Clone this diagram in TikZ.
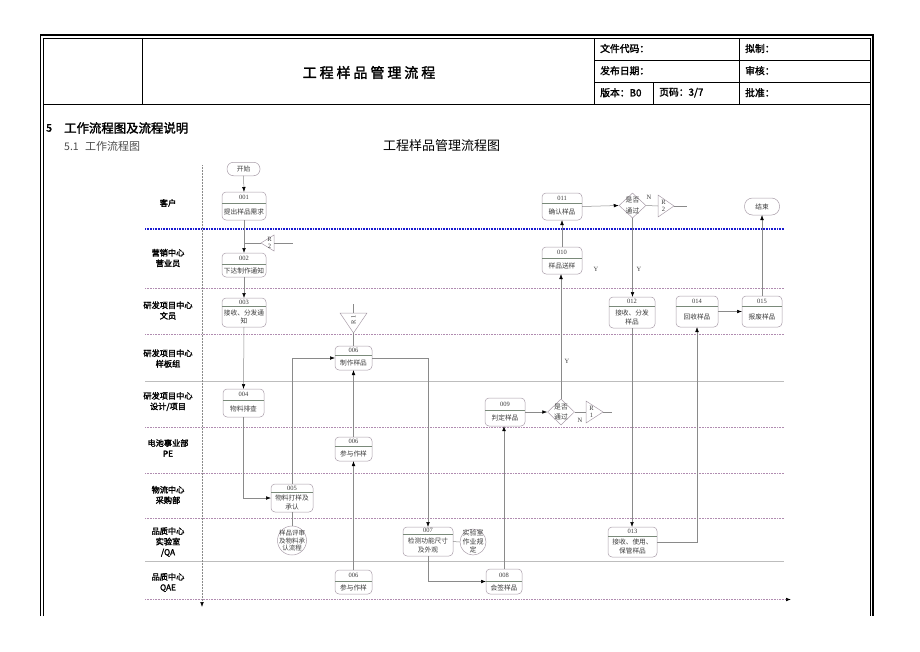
\documentclass[tikz,border=0pt]{standalone}
\usepackage{fontspec}
\setmainfont{Noto Sans CJK SC}[AutoFakeBold=2]
\newfontfamily\numf{Liberation Serif}
\usetikzlibrary{arrows.meta,shapes.geometric,fit}
\definecolor{boxc}{HTML}{A89CA8}
\definecolor{divc}{HTML}{7A8A7A}
\definecolor{linec}{HTML}{8A8A8A}
\definecolor{lanepc}{HTML}{B08CB0}
\definecolor{lanegc}{HTML}{BDBDBD}
\definecolor{lanebc}{HTML}{1A1AD0}
\definecolor{txtc}{HTML}{3A3A3A}
\tikzset{
 pbox/.style={draw=boxc, rounded corners=4pt, line width=0.5pt, inner sep=0pt, outer sep=0pt},
 divl/.style={draw=divc, line width=0.5pt},
 numt/.style={font=\numf\fontsize{6.5}{6.5}\selectfont, text=txtc, inner sep=0pt},
 tritext/.style={font=\numf\fontsize{6.5}{7.5}\selectfont, text=txtc, inner sep=0pt, align=center},
 boxt/.style={font=\fontsize{6.7}{8.6}\selectfont, text=txtc, inner sep=0pt, align=center},
 conn/.style={draw=linec, line width=0.5pt},
 arr/.style={conn, -{Latex[length=5pt,width=3.6pt,black]}},
 trishape/.style={draw=boxc, line width=0.5pt},
 lanelbl/.style={font=\fontsize{8.2}{10.5}\selectfont\bfseries, align=center, inner sep=0pt},
 hdr/.style={font=\fontsize{9.8}{9.8}\selectfont\bfseries, anchor=west, inner sep=0pt},
 sepB/.style={draw=lanebc, line width=1.2pt, dash pattern=on 0.8pt off 0.8pt},
 sepP/.style={draw=lanepc, line width=0.6pt, densely dotted},
 sepG/.style={draw=lanegc, line width=0.6pt},
}
\newcommand\procbox[8]{%
 \node[pbox, fit={(#2,#3) (#4,#5)}] (#1) {};
 \draw[divl] (#2,#6) -- (#4,#6);
 \node[numt] (#1n) at ({(#2+#4)/2},{(#3+#6)/2}) {#7};
 \node[boxt] (#1t) at ({(#2+#4)/2},{(#6+#5)/2}) {#8};
}
\begin{document}
\begin{tikzpicture}[x=1pt,y=-1pt]
\useasboundingbox (0,0) rectangle (920,651);
% frame
\draw[line width=1.6pt] (40.5,616) -- (40.5,35) -- (873,35) -- (873,616);
\draw[line width=0.6pt] (43,616) -- (43,37.8) -- (870.5,37.8) -- (870.5,616);
% header table
\draw[line width=1pt] (43,104) -- (870.5,104);
\draw[line width=0.9pt] (142,37.8) -- (142,104);
\draw[line width=0.9pt] (594,37.8) -- (594,104);
\draw[line width=0.9pt] (594,60) -- (870.5,60);
\draw[line width=0.9pt] (594,82) -- (870.5,82);
\draw[line width=0.9pt] (739,37.8) -- (739,104);
\draw[line width=0.9pt] (653,82) -- (653,104);
\node[font=\fontsize{14}{14}\selectfont\bfseries\addfontfeature{LetterSpace=21}] (title) at (369,72.5) {工程样品管理流程};
\node[hdr] (h1) at (600,48.5) {文件代码：};
\node[hdr] (h2) at (600,70.7) {发布日期：};
\node[hdr] (h3) at (600,92.7) {版本：B0};
\node[hdr] (h4) at (659,92.7) {页码：3/7};
\node[hdr] (h5) at (745,48.5) {拟制：};
\node[hdr] (h6) at (745,70.7) {审核：};
\node[hdr] (h7) at (745,92.7) {批准：};
% section headings
\node[anchor=west, inner sep=0pt, font=\fontsize{10.5}{10.5}\selectfont\bfseries] (s5) at (46,128) {5};
\node[anchor=west, inner sep=0pt, font=\fontsize{12.4}{12.4}\selectfont\bfseries] (s5t) at (64,128) {工作流程图及流程说明};
\node[anchor=west, inner sep=0pt, text=black!70, font=\fontsize{10.5}{10.5}\selectfont] (s51) at (64,146.5) {5.1};
\node[anchor=west, inner sep=0pt, text=black!70, font=\fontsize{11}{11}\selectfont] (s51t) at (85,146.5) {工作流程图};
\node[inner sep=0pt, font=\fontsize{13}{13}\selectfont] (ftitle) at (441.5,146) {工程样品管理流程图};
% lanes
\draw[sepB] (145,229) -- (784,229);
\draw[sepP] (145,288) -- (784,288);
\draw[sepP] (145,334) -- (784,334);
\draw[sepG] (145,381) -- (784,381);
\draw[sepP] (145,427) -- (784,427);
\draw[sepP] (145,473) -- (784,473);
\draw[sepP] (145,518) -- (784,518);
\draw[sepG] (145,561) -- (784,561);
\draw[sepP, -{Latex[length=5pt,width=3.6pt,black]}] (145,599.5) -- (791,599.5);
\draw[conn, densely dotted, -{Latex[length=5pt,width=3.6pt,black]}] (202,165) -- (202,607);
\node[lanelbl] (l1) at (168,203) {客户};
\node[lanelbl] (l2) at (168,258) {营销中心\\营业员};
\node[lanelbl] (l3) at (168,310.5) {研发项目中心\\文员};
\node[lanelbl] (l4) at (168,358.5) {研发项目中心\\样板组};
\node[lanelbl] (l5) at (168,401.5) {研发项目中心\\设计/项目};
\node[lanelbl] (l6) at (168,448) {电池事业部\\PE};
\node[lanelbl] (l7) at (168,495) {物流中心\\采购部};
\node[lanelbl] (l8) at (168,542) {品质中心\\实验室\\/QA};
\node[lanelbl] (l9) at (168,582.5) {品质中心\\QAE};
% terminals
\node[pbox, rounded corners=6.5pt, minimum width=33, minimum height=13.5, boxt] (start) at (243.5,169) {开始};
\node[pbox, rounded corners=8pt, minimum width=35, minimum height=17, boxt] (finish) at (762,206.5) {结束};
% process boxes
\procbox{b001}{222}{192}{266}{220}{203.5}{001}{提出样品需求}
\procbox{b002}{222}{253}{266}{277}{264}{002}{下达制作通知}
\procbox{b003}{222}{298}{266}{327}{306.5}{003}{接收、分发通\\知}
\procbox{b004}{223}{389}{264}{417}{400}{004}{物料排查}
\procbox{b005}{271}{484}{313}{512}{492.5}{005}{物料打样及\\承认}
\procbox{b006}{335}{346}{372}{370}{355.5}{006}{制作样品}
\procbox{b006pe}{335}{437}{372}{461}{446.5}{006}{参与作样}
\procbox{b006q}{335}{570}{372}{594}{581}{006}{参与作样}
\procbox{b007}{403}{527}{453}{556}{534.5}{007}{检测功能尺寸\\及外观}
\procbox{b008}{486}{569}{522}{594}{581}{008}{会签样品}
\procbox{b009}{485}{398}{525}{426}{410}{009}{判定样品}
\procbox{b010}{542}{247}{582}{274}{258.5}{010}{样品送样}
\procbox{b011}{542}{193}{582}{220}{203.5}{011}{确认样品}
\procbox{b012}{609}{297}{655}{328}{306.5}{012}{接收、分发\\样品}
\procbox{b013}{608}{527}{657}{557}{536}{013}{接收、使用、\\保管样品}
\procbox{b014}{676}{296}{718}{327}{306.5}{014}{回收样品}
\procbox{b015}{742}{296}{782}{327}{306.5}{015}{报废样品}
% circles
\node[circle, draw=boxc, line width=0.5pt, minimum size=29, inner sep=0pt] (c1) at (292,540.5) {};
\node[boxt, font=\fontsize{6.5}{7.7}\selectfont] (c1t) at (292,540.5) {样品评审\\及物料承\\认流程};
\node[circle, draw=boxc, line width=0.5pt, minimum size=26, inner sep=0pt] (c2) at (473,542) {};
\node[boxt, font=\fontsize{7}{8.2}\selectfont] (c2t) at (473,541.5) {实验室\\作业规\\定};
% decisions
\node[diamond, draw=boxc, line width=0.5pt, minimum width=27, minimum height=26, inner sep=0pt] (d1) at (561,412) {};
\node[boxt, font=\fontsize{6.8}{9.8}\selectfont] (d1t) at (561,412) {是否\\通过};
\node[diamond, draw=boxc, line width=0.5pt, minimum width=27, minimum height=25, inner sep=0pt] (d2) at (632.5,205.5) {};
\node[boxt, font=\fontsize{6.8}{10.5}\selectfont] (d2t) at (632.5,205.5) {是否\\通过};
% off-page connectors (triangles)
\draw[trishape] (261,243) -- (274,235) -- (274,251) -- cycle;
\coordinate (j2) at (243.5,243);
\coordinate (r2La) at (261,243);
\coordinate (r2Lb) at (274,243);
\coordinate (r2Le) at (293,243);
\node[tritext] (r2Lt) at (269.5,243) {R\\2};
\draw[trishape] (340,313) -- (367,313) -- (353.5,333) -- cycle;
\coordinate (r1in) at (353.5,304);
\coordinate (r1top) at (353.5,313);
\coordinate (r1apex) at (353.5,333);
\node[tritext, rotate=90] (r1Dt) at (353.5,319.5) {R 1};
\draw[trishape] (586,401) -- (603,412) -- (586,423) -- cycle;
\coordinate (r1Rb) at (586,412);
\coordinate (r1Ra) at (603,412);
\coordinate (r1Re) at (612,412);
\node[tritext] (r1Rt) at (591.5,412) {R\\1};
\draw[trishape] (658,195) -- (674,206) -- (658,217) -- cycle;
\coordinate (r2Rb) at (658,206);
\coordinate (r2Ra) at (674,206);
\coordinate (r2Re) at (687,206);
\node[tritext] (r2Rt) at (663.5,206) {R\\2};
% connectors
\draw[arr] (start.south) -- (b001.north);
\draw[arr] (b001.south) -- (b002.north);
\draw[conn] (r2La) -- (j2);
\draw[conn] (r2Lb) -- (r2Le);
\draw[arr] (b002.south) -- (b003.north);
\draw[arr] (b003.south) -- (b004.north);
\draw[arr] (b004.south) |- (b005.west);
\draw[arr] (b005.north) |- (b006.west);
\draw[conn] (b005.south) -- (c1.north);
\draw[conn] (r1in) -- (r1top);
\draw[conn] (r1apex) -- (b006.north);
\draw[arr] (b006pe.north) -- (b006.south);
\draw[arr] (b006q.north) -- (b006pe.south);
\draw[arr] (b006.east) -| (b007.north);
\draw[conn] (b007.east) -- (c2.west);
\draw[arr] (b007.south) |- (b008.west);
\draw[arr] (b008.north) -- (b008.north |- b009.south);
\draw[arr] (b009.east) -- (d1.west);
\draw[conn] (d1.east) -- (r1Rb);
\draw[conn] (r1Ra) -- (r1Re);
\draw[arr] (d1.north) -- (d1.north |- b010.south);
\draw[arr] (b010.north) -- (b011.south);
\draw[arr] (b011.east) -- (d2.west);
\draw[conn] (d2.east) -- (r2Rb);
\draw[conn] (r2Ra) -- (r2Re);
\draw[arr] (d2.south) -- (d2.south |- b012.north);
\draw[arr] (b012.south) -- (b012.south |- b013.north);
\draw[arr] (b013.east) -| (b014.south);
\draw[arr] (b014.east) -- (b015.west);
\draw[arr] (b015.north) -- (b015.north |- finish.south);
% Y / N labels
\node[numt] (y1) at (596,269) {Y};
\node[numt] (y2) at (639,269) {Y};
\node[numt] (y3) at (567,361) {Y};
\node[numt] (n1) at (649,197) {N};
\node[numt] (n2) at (580,420) {N};
\end{tikzpicture}
\end{document}
